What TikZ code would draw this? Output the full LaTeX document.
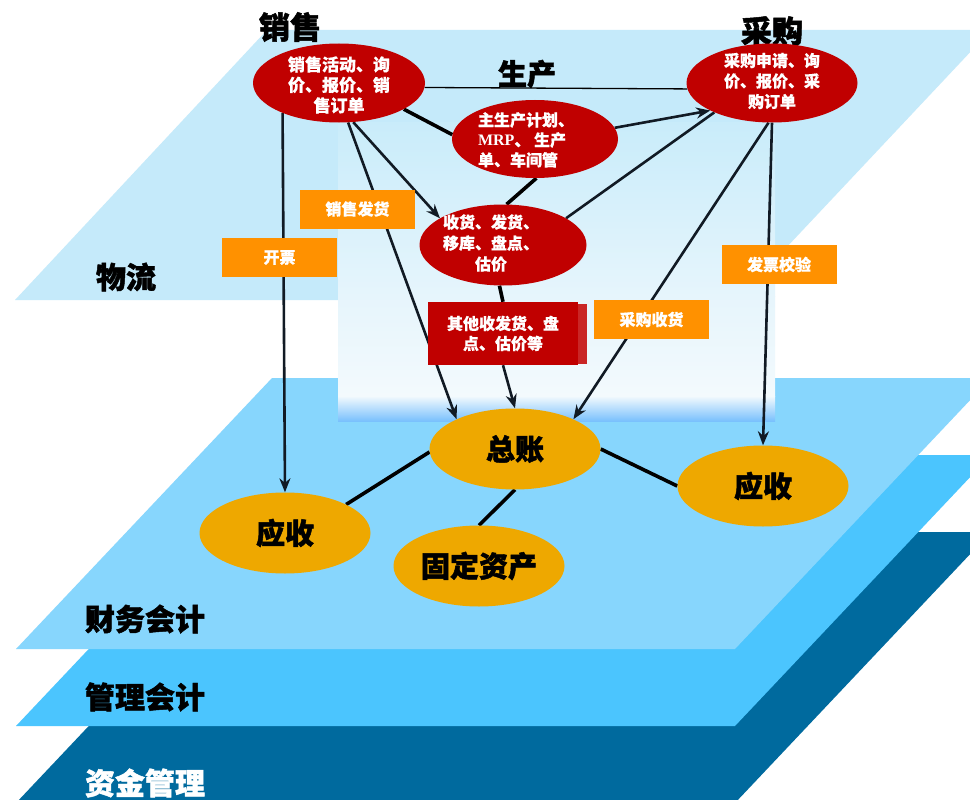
\documentclass[tikz,border=0pt]{standalone}
\usepackage{fontspec}
\setmainfont{Noto Sans CJK SC}[BoldFeatures={FakeBold=0.5}]
\newfontfamily\heavyfont{Noto Sans CJK SC}[BoldFeatures={FakeBold=1.6}]
\newfontfamily\mrpfont{Liberation Serif}
\usetikzlibrary{shapes.geometric,arrows.meta}
\pgfdeclarelayer{bg}
\pgfdeclarelayer{lines}
\pgfsetlayers{bg,lines,main}
\definecolor{cPlaneA}{HTML}{C5EAFA}
\definecolor{cPlaneB}{HTML}{87D6FD}
\definecolor{cPlaneC}{HTML}{4BC5FE}
\definecolor{cPlaneD}{HTML}{006A9E}
\definecolor{cRed}{HTML}{C00000}
\definecolor{cOrBox}{HTML}{FF9100}
\definecolor{cOrEll}{HTML}{EEA800}
\definecolor{cLine}{HTML}{111A24}
\definecolor{cPatchA}{HTML}{C9ECFA}
\definecolor{cPatchB}{HTML}{E6F5FC}
\definecolor{cPatchC}{HTML}{F3FAFD}
\newcommand\ctext[4]{\makebox[0pt]{\hspace*{#1}\hspace*{#1}\smash{\raisebox{\dimexpr(\depth-\height)/2-#2\relax}{\begin{tabular}{@{}#3@{}}#4\end{tabular}}}}}
\newcommand\dn[1]{\raisebox{-4pt}{#1}}
\tikzset{
  redell/.style={ellipse, fill=cRed, text=white, inner sep=0pt},
  orbox/.style={rectangle, fill=cOrBox, text=white, inner sep=0pt,
    minimum width=115pt, minimum height=39pt, font=\bfseries\fontsize{16}{18}\selectfont},
  orell/.style={ellipse, fill=cOrEll, text=black, inner sep=0pt,
    minimum width=171pt, minimum height=81pt, font=\heavyfont\bfseries\fontsize{29}{32}\selectfont},
  ttl/.style={font=\heavyfont\bfseries\fontsize{31}{34}\selectfont, inner sep=0pt},
  lyr/.style={font=\heavyfont\bfseries\fontsize{30}{33}\selectfont, inner sep=0pt},
  arr/.style={line width=2.6pt, draw=cLine, -{Stealth[length=14pt,width=11pt]}},
  ln/.style={line width=2.6pt, draw=cLine},
  thk/.style={line width=3.6pt, draw=black},
  thn/.style={line width=1.3pt, draw=black}
}
\begin{document}
\begin{tikzpicture}[x=1pt,y=-1pt]
\clip (0,0) rectangle (970,800);
\useasboundingbox (0,0) rectangle (970,800);
\begin{pgfonlayer}{bg}
  \fill[white] (0,0) rectangle (970,800);
  \foreach \yy/\cc in {532/cPlaneD,455/cPlaneC,378/cPlaneB}
    \fill[\cc] (16,{\yy+271}) -- (735,{\yy+271}) -- (991,\yy) -- (272,\yy) -- cycle;
  \fill[cPlaneA] (15,300) -- (737,300) -- (991,30) -- (267,30) -- cycle;
  % pasted photo-like patch
  \shade[top color=cPatchA, bottom color=cPatchB] (338,122) rectangle (775,296);
  \shade[top color=cPatchB, bottom color=cPatchC] (338,296) rectangle (775,396);
  \shade[top color=cPatchC, bottom color=cPlaneB!90!blue] (338,396) rectangle (775,421);
  % blurred red remnants inside the patch
  \fill[cRed!85!white] (575,304) rectangle (587,364);
\end{pgfonlayer}

% titles and layer labels
\node[ttl] (tSales) at (290,27) {销售};
\node[ttl] (tPurch) at (772,31) {采购};
\node[ttl, font=\heavyfont\bfseries\fontsize{29}{32}\selectfont] (tProd) at (527,74) {生产};
\node[lyr] (lLog) at (126,277) {物流};
\node[lyr] (lFin) at (145,619) {财务会计};
\node[lyr] (lMgt) at (145,697) {管理会计};
\node[lyr, text=white] (lCash) at (145,783) {资金管理};

% red ellipses
\node[redell, minimum width=172pt, minimum height=79pt,
  font=\bfseries\fontsize{17}{19.5}\selectfont] (sales) at (339,83)
  {\ctext{0pt}{4pt}{c}{销售活动、询\\价、报价、销\\售订单}};
\node[redell, minimum width=171pt, minimum height=79pt,
  font=\bfseries\fontsize{16}{20.5}\selectfont] (purch) at (772,83)
  {\ctext{0pt}{0pt}{c}{采购申请、询\\价、报价、采\\购订单}};
\node[redell, minimum width=166pt, minimum height=78pt,
  font=\bfseries\fontsize{16}{20}\selectfont] (prod) at (535,139)
  {\ctext{-9pt}{3pt}{l}{主生产计划、\\{\mrpfont\bfseries MRP}、 生产\\单、车间管}};
\node[redell, minimum width=167pt, minimum height=81pt,
  font=\bfseries\fontsize{16}{21}\selectfont] (recv) at (503,245)
  {\ctext{-12pt}{0pt}{c}{收货、发货、\\移库、盘点、\\估价}};
\node[rectangle, fill=cRed, text=white, inner sep=0pt, minimum width=150pt,
  minimum height=63pt, align=center,
  font=\bfseries\fontsize{16}{20}\selectfont] (other) at (503,333.5)
  {其他收发货、盘\\点、估价等};

% orange label boxes
\node[orbox] (lbSd) at (357.5,209) {销售发货};
\node[orbox] (lbIv) at (279.5,257.5) {开票};
\node[orbox] (lbCk) at (779,264.5) {发票校验};
\node[orbox] (lbRc) at (651.5,319.5) {采购收货};

% orange ellipses
\node[orell] (gl) at (515,449) {\dn{总账}};
\node[orell] (arL) at (285,533) {\dn{应收}};
\node[orell] (fa) at (479,566) {\dn{固定资产}};
\node[orell] (arR) at (763,486) {\dn{应收}};

\begin{pgfonlayer}{lines}
  \draw[thn] (sales.-3) -- (purch.184);
  \draw[arr] (sales.208) -- (arL.north);
  \draw[arr] (sales.283) -- (gl.153);
  \draw[arr] (sales.290) -- (recv.157);
  \draw[thk] (sales.338) -- (prod.177);
  \draw[arr] (prod.8) -- (purch.204);
  \draw[ln] (recv.23) -- (purch.207);
  \draw[arr] (purch.265) -- (gl.27);
  \draw[arr] (purch.south) -- (arR.north);
  \draw[thk] (prod.272) -- (recv.85);
  \draw[thk] (recv.265) -- (other.north);
  \draw[arr] (other.south) -- (gl.north);
  \draw[thk] (gl.182) -- (arL.25);
  \draw[thk] (gl.south) -- (fa.north);
  \draw[thk] (gl.east) -- (arR.west);
\end{pgfonlayer}
\end{tikzpicture}
\end{document}
